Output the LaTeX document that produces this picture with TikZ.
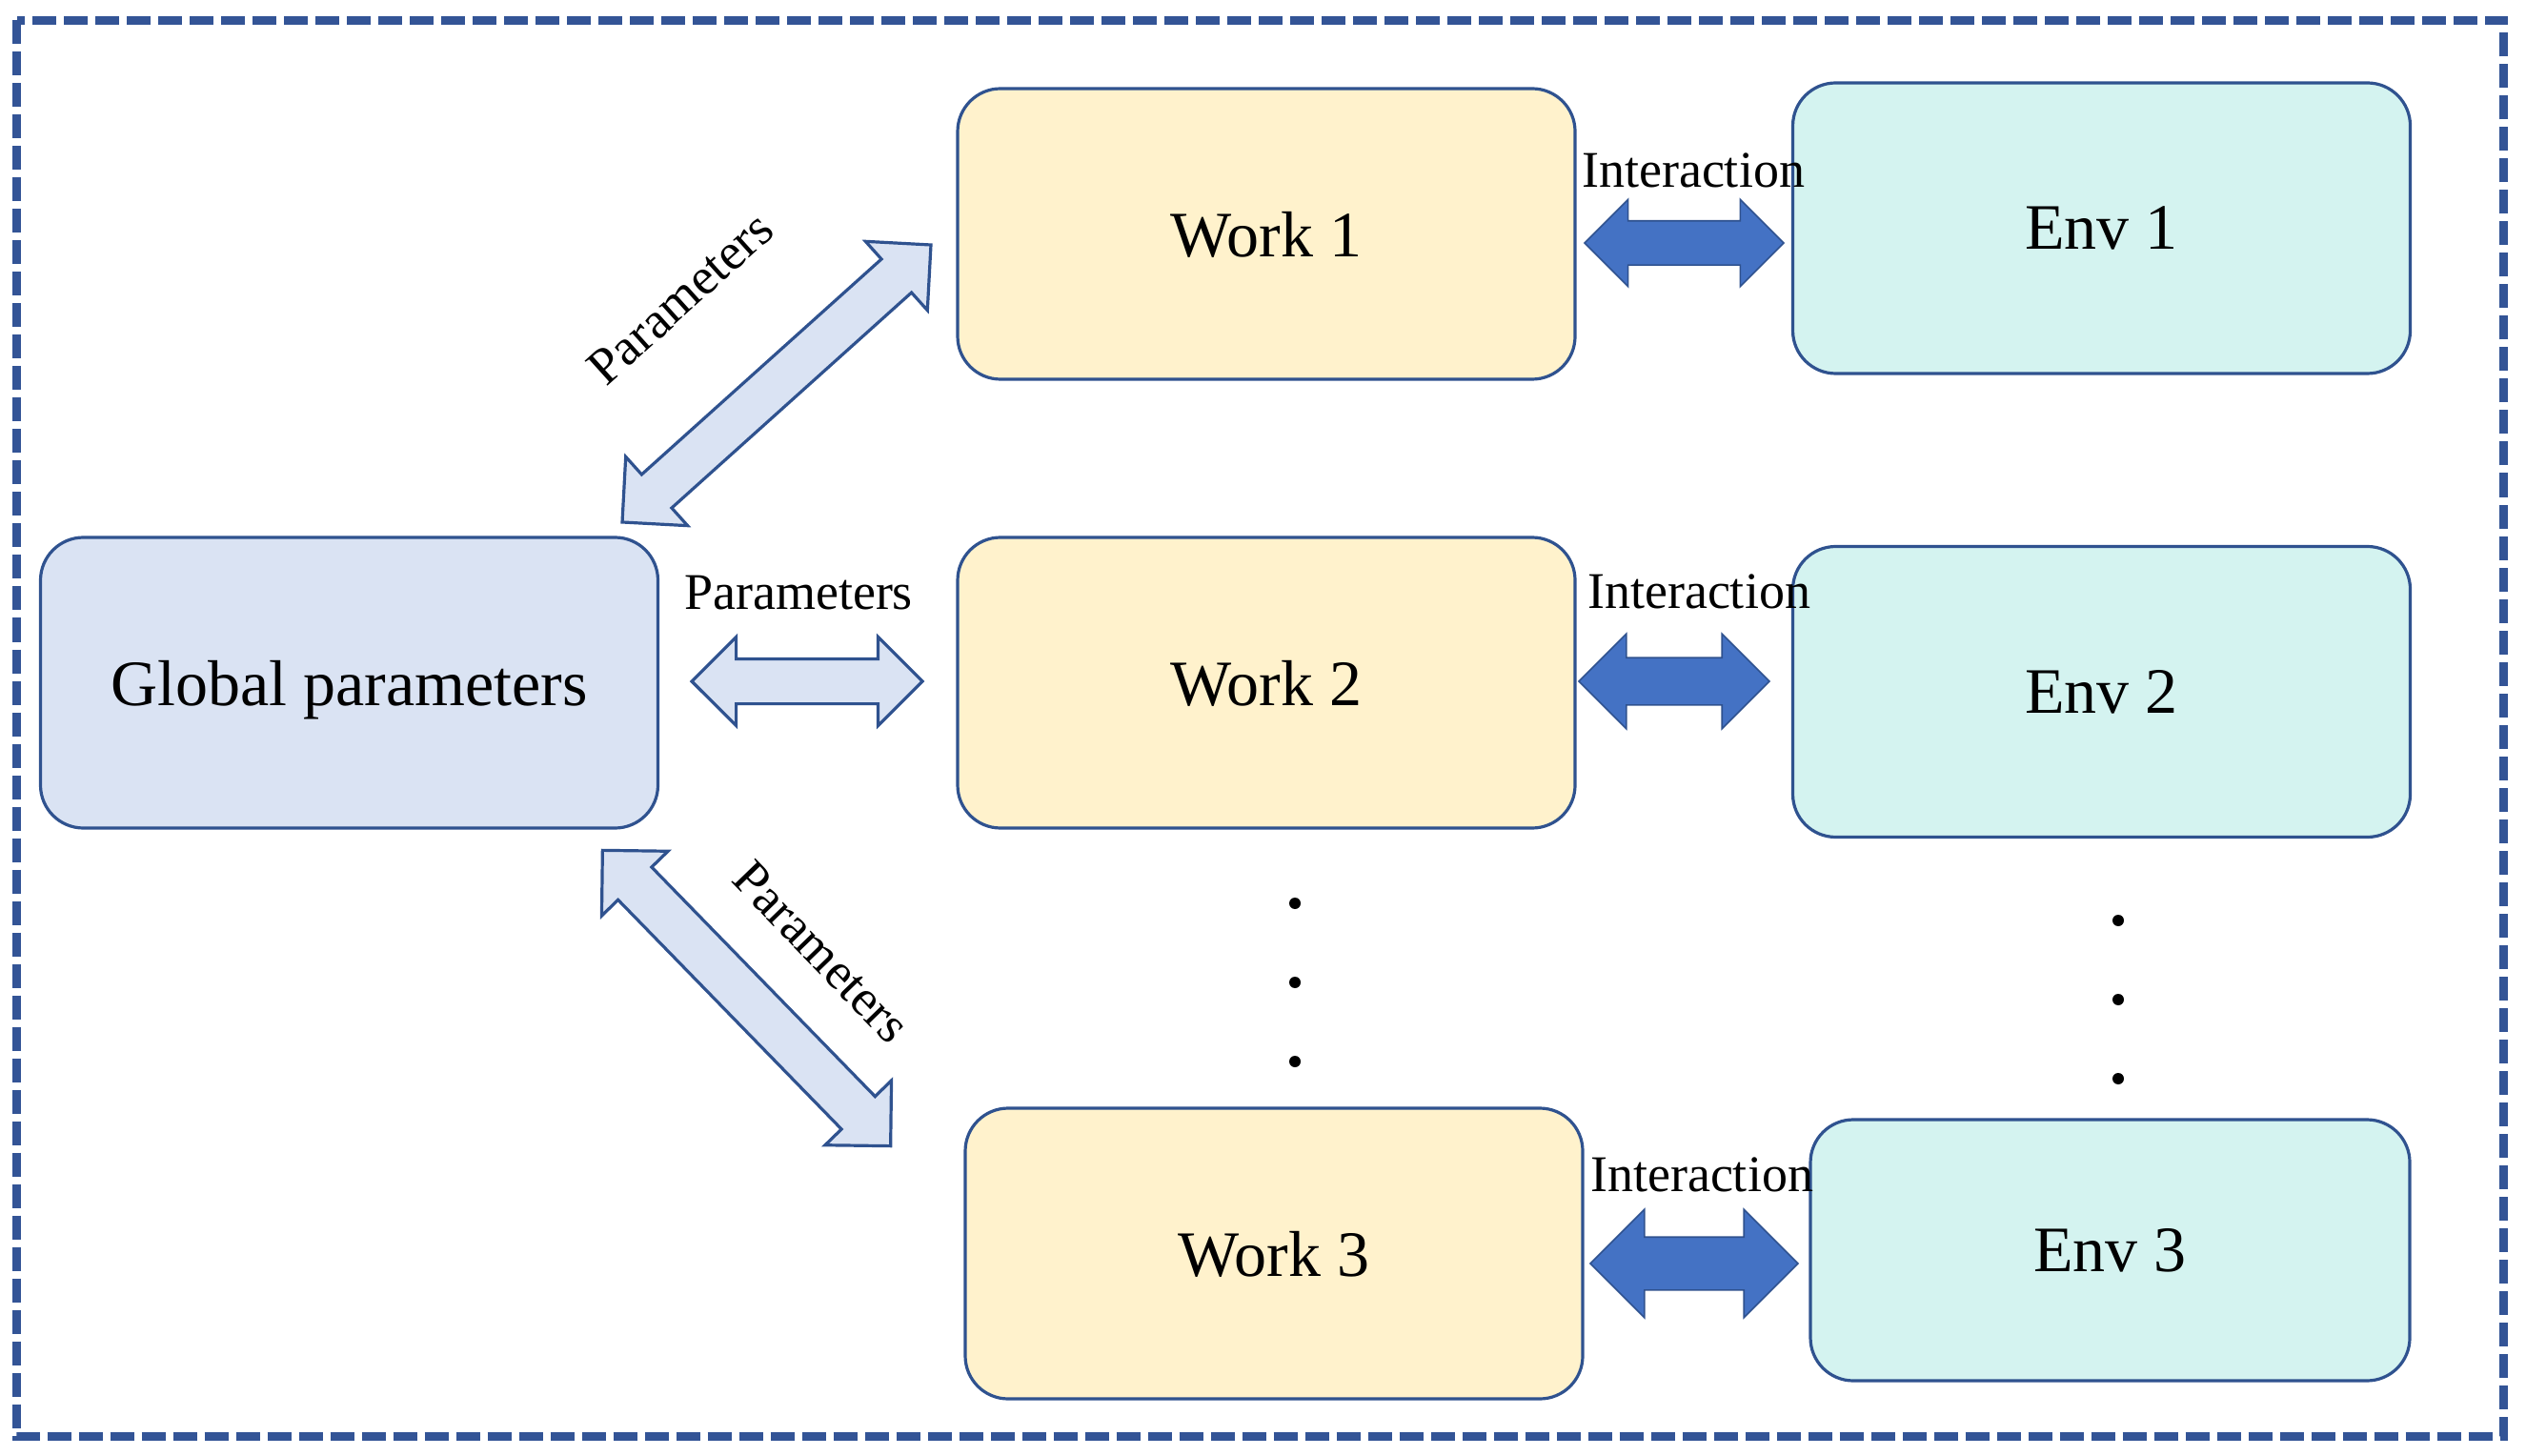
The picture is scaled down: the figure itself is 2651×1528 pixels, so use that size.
\documentclass[tikz,border=0pt]{standalone}
\usepackage{fontspec}
\setmainfont{Liberation Serif}
\usetikzlibrary{shapes.arrows,calc}

\definecolor{frameblue}{RGB}{51,84,150}
\definecolor{lineblue}{RGB}{47,82,143}
\definecolor{globfill}{RGB}{218,227,243}
\definecolor{workfill}{RGB}{255,242,204}
\definecolor{envfill}{RGB}{212,243,240}
\definecolor{interfill}{RGB}{68,114,196}

% block arrow laid between two named points (y axis runs down)
\newcommand{\blockarrow}[3][]{%
  \path let \p1=($(#3)-(#2)$), \n1={veclen(\x1,\y1)}, \n2={-atan2(\y1,\x1)} in
    node[dblarrow,minimum height=\n1,rotate=\n2,#1] at ($(#2)!0.5!(#3)$) {};}

\begin{document}
\begin{tikzpicture}[x=0.25pt,y=0.25pt,yscale=-1,xscale=1,
  block/.style={draw=lineblue,line width=0.8pt,rounded corners=11.25pt,
    minimum width=162pt,minimum height=76.25pt,inner sep=0pt,
    font=\fontsize{17}{20}\selectfont,text depth=0pt},
  dblarrow/.style={double arrow,double arrow tip angle=90,inner xsep=0pt,
    inner ysep=5.5pt,double arrow head extend=6pt,minimum width=0pt},
  paramarrow/.style={draw=lineblue,fill=globfill,line width=0.8pt},
  interarrow/.style={draw=lineblue,fill=interfill,line width=0.4pt},
  lbl/.style={font=\fontsize{13.5}{16}\selectfont,inner sep=0pt}]
\useasboundingbox (0,0) rectangle (2651,1528);

%Shape: dashed frame
\draw [frameblue,line width=2.25pt,dash pattern=on 6.25pt off 2pt] (17.5,21.5) rectangle (2627.5,1507.5);

% Boxes
\node [block,fill=globfill] (glob) at (366.5,716.5) {Global parameters};
\node [block,fill=workfill] (w1) at (1329,245.5) {Work 1};
\node [block,fill=workfill] (w2) at (1329,716.5) {Work 2};
\node [block,fill=workfill] (w3) at (1337,1315.5) {Work 3};
\node [block,fill=envfill] (e1) at (2205.5,239.5) {Env 1};
\node [block,fill=envfill] (e2) at (2205.5,726) {Env 2};
\node [block,fill=envfill,minimum width=157.25pt,minimum height=68.5pt] (e3) at (2214.5,1312) {Env 3};

% Arrow ends
\coordinate (pa1) at (653,548);
\coordinate (pb1) at (977,257);
\coordinate (pa2) at (726,715);
\coordinate (pb2) at (968,715);
\coordinate (pa3) at (632,892);
\coordinate (pb3) at (935,1203);
\coordinate (ia1) at (1663,255);
\coordinate (ib1) at (1872,255);
\coordinate (ia2) at (1657,715);
\coordinate (ib2) at (1857,715);
\coordinate (ia3) at (1669,1326);
\coordinate (ib3) at (1887,1326);

% Parameter arrows
\blockarrow[paramarrow,double arrow head extend=6.25pt]{pa1}{pb1}
\blockarrow[paramarrow,double arrow head extend=5.75pt]{pa2}{pb2}
\blockarrow[paramarrow,inner ysep=5.75pt,double arrow head extend=6pt]{pa3}{pb3}

% Interaction arrows
\blockarrow[interarrow,inner ysep=5.6pt,double arrow head extend=5.6pt]{ia1}{ib1}
\blockarrow[interarrow,inner ysep=6pt,double arrow head extend=6.25pt]{ia2}{ib2}
\blockarrow[interarrow,inner ysep=6.75pt,double arrow head extend=7.25pt]{ia3}{ib3}

% Text Node
\node [lbl,rotate=42] (par1) at (714,313) {Parameters};
% Text Node
\node [lbl,anchor=base] (par2) at (838,640) {Parameters};
% Text Node
\node [lbl,rotate=-46] (par3) at (862,999) {Parameters};
% Text Node
\node [lbl,anchor=base] (int1) at (1777,197) {Interaction};
% Text Node
\node [lbl,anchor=base] (int2) at (1783,639) {Interaction};
% Text Node
\node [lbl,anchor=base] (int3) at (1786,1250) {Interaction};

% dots
\foreach \y in {948,1031,1114} \fill (1359,\y) circle [radius=6];
\foreach \y in {966,1049,1132} \fill (2223,\y) circle [radius=6];
\end{tikzpicture}
\end{document}
